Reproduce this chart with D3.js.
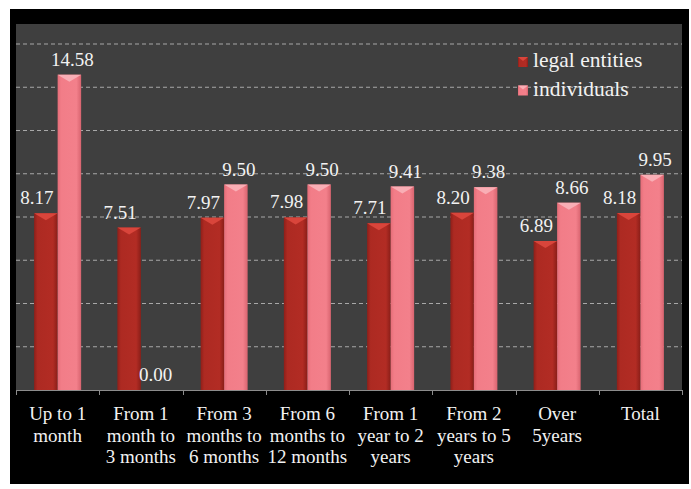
<!DOCTYPE html>
<html>
<head>
<meta charset="utf-8">
<script src="https://cdn.jsdelivr.net/npm/d3@7"></script>
<style>
  body { margin: 0; background: #fff; }
</style>
</head>
<body>
<div id="chart"></div>
<script>
// Data
const categories = ["Up to 1\nmonth", "From 1\nmonth to\n3 months", "From 3\nmonths to\n6 months",
  "From 6\nmonths to\n12 months", "From 1\nyear to 2\nyears", "From 2\nyears to 5\nyears",
  "Over\n5years", "Total"];
const seriesNames = ["legal entities", "individuals"];
const legalEntities = [8.17, 7.51, 7.97, 7.98, 7.71, 8.20, 6.89, 8.18];
const individuals = [14.58, 0.00, 9.50, 9.50, 9.41, 9.38, 8.66, 9.95];
const gridTicks = [2, 4, 6, 8, 10, 12, 14, 16];

const W = 691, H = 489;
const plot = { left: 16, right: 682, top: 24, bottom: 390 };
const FONT = "'Liberation Serif', 'Times New Roman', 'DejaVu Serif', serif";

const svg = d3.select("#chart").append("svg")
    .attr("width", W)
    .attr("height", H)
    .attr("font-family", FONT);

// gradients for the bars
const defs = svg.append("defs");
function grad(id, stops) {
    const g = defs.append("linearGradient").attr("id", id)
        .attr("x1", "0%").attr("x2", "100%").attr("y1", "0%").attr("y2", "0%");
    stops.forEach(s => g.append("stop").attr("offset", s[0]).attr("stop-color", s[1]));
}
grad("gDark", [["0%", "#8e1f19"], ["15%", "#ad2a22"], ["80%", "#b22c24"], ["100%", "#8a1e18"]]);
grad("gPink", [["0%", "#e56d78"], ["15%", "#f27d88"], ["80%", "#f3808b"], ["100%", "#d8646f"]]);

// black frame + plot background
svg.append("rect").attr("x", 10).attr("y", 9).attr("width", 679).attr("height", 475)
    .attr("fill", "#000");
svg.append("rect").attr("x", plot.left).attr("y", plot.top)
    .attr("width", plot.right - plot.left).attr("height", plot.bottom - plot.top)
    .attr("fill", "#3f3f3f");

// Scales
const x = d3.scaleBand().domain(d3.range(categories.length)).range([plot.left, plot.right]);
const x1 = d3.scaleBand().domain(seriesNames).range([0, x.bandwidth()]).paddingOuter(0.77);
const y = d3.scaleLinear().domain([0, 16]).range([plot.bottom, 44]);

// Gridlines
svg.append("g").selectAll("line").data(gridTicks).join("line")
    .attr("x1", plot.left).attr("x2", plot.right)
    .attr("y1", d => y(d)).attr("y2", d => y(d))
    .attr("stroke", "#a8a8a8").attr("stroke-width", 1)
    .attr("stroke-dasharray", "4,3");

// X axis line and ticks
svg.append("line").attr("x1", plot.left).attr("x2", plot.right)
    .attr("y1", plot.bottom + 0.5).attr("y2", plot.bottom + 0.5)
    .attr("stroke", "#8c8c8c");
svg.append("g").selectAll("line").data(d3.range(categories.length + 1)).join("line")
    .attr("x1", i => Math.round(plot.left + i * x.step()) + 0.5)
    .attr("x2", i => Math.round(plot.left + i * x.step()) + 0.5)
    .attr("y1", plot.bottom).attr("y2", plot.bottom + 5)
    .attr("stroke", "#8c8c8c");

// Bars
const series = [
    { name: seriesNames[0], values: legalEntities, fill: "url(#gDark)", top: "#d9453b", dx: -9 },
    { name: seriesNames[1], values: individuals, fill: "url(#gPink)", top: "#f9aeb5", dx: 3 }
];

series.forEach(s => {
    const g = svg.append("g");
    const bw = x1.bandwidth();
    const bars = g.selectAll("g").data(s.values).join("g")
        .attr("transform", (d, i) => `translate(${x(i) + x1(s.name)},0)`);
    bars.append("rect")
        .attr("x", 0).attr("width", bw)
        .attr("y", d => y(d)).attr("height", d => y(0) - y(d))
        .attr("fill", s.fill);
    // bevelled top
    bars.filter(d => d > 0).append("path")
        .attr("d", d => `M0,${y(d)} L${bw},${y(d)} L${bw / 2},${y(d) + 7} Z`)
        .attr("fill", s.top);
    bars.append("text")
        .attr("x", bw / 2 + s.dx)
        .attr("y", d => y(d) - 9)
        .attr("text-anchor", "middle")
        .attr("fill", "#f2f2f2")
        .style("font-family", FONT)
        .style("font-size", "19px")
        .text(d => d.toFixed(2));
});

// Category labels
const labels = svg.append("g").selectAll("text").data(categories).join("text")
    .attr("text-anchor", "middle")
    .attr("fill", "#f2f2f2")
    .style("font-family", FONT)
    .style("font-size", "19px")
    .attr("transform", (d, i) => `translate(${x(i) + x.bandwidth() / 2},${plot.bottom + 30})`);
labels.selectAll("tspan").data(d => d.split("\n")).join("tspan")
    .attr("x", 0)
    .attr("y", (d, i) => i * 21.5)
    .text(d => d);

// Legend
const legend = svg.append("g").attr("transform", "translate(518,57)");
series.forEach((s, i) => {
    const row = legend.append("g").attr("transform", `translate(0,${i * 28.5})`);
    row.append("rect").attr("width", 10).attr("height", 10).attr("fill", s.fill);
    row.append("path").attr("d", "M0,0 L10,0 L5,4 Z").attr("fill", s.top);
    row.append("text").attr("x", 15).attr("y", 10)
        .attr("fill", "#f2f2f2")
        .style("font-family", FONT)
        .style("font-size", "21.5px")
        .text(s.name);
});
</script>
</body>
</html>
